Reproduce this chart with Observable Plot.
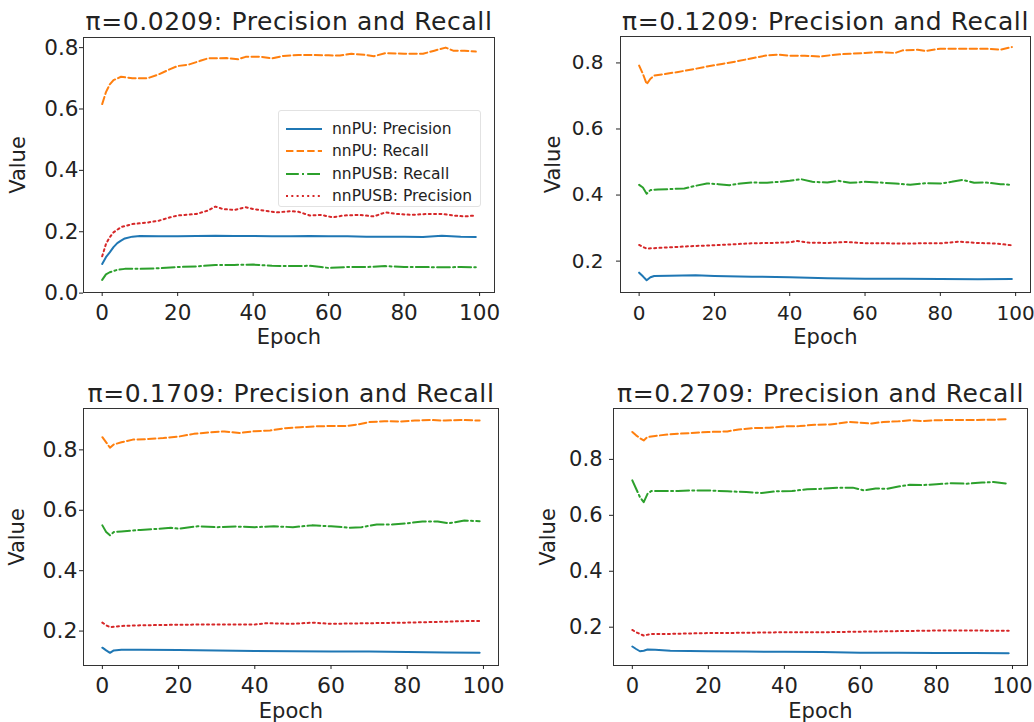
<!DOCTYPE html>
<html>
<head>
<meta charset="utf-8">
<script src="https://cdn.jsdelivr.net/npm/d3@7"></script>
<script src="https://cdn.jsdelivr.net/npm/@observablehq/plot@0.6"></script>
<style>
  body { margin: 0; background: #fff; }
  #root { position: relative; width: 1034px; height: 722px; overflow: hidden; font-family: "DejaVu Sans", sans-serif; }
  .panel { position: absolute; }
  .legend { position: absolute; background: rgba(255,255,255,0.8); border: 1px solid #e2e2e2; border-radius: 3px; box-sizing: border-box; }
  .legend .row { position: absolute; left: 0; height: 22px; display: flex; align-items: center; }
  .legend .row span { font-size: 15.5px; color: #222; margin-left: 10px; white-space: nowrap; }
</style>
</head>
<body>
<div id="root"></div>
<script>
// ---------- series meta ----------
const seriesNames  = ["nnPU: Precision", "nnPU: Recall", "nnPUSB: Recall", "nnPUSB: Precision"];
const seriesColors = ["#1f77b4", "#ff7f0e", "#2ca02c", "#d62728"];
const seriesDash   = [null, "7.4,3.2", "12.8,3.2,2,3.2", "2,3.3"];
const piLabels     = ["0.0209", "0.1209", "0.1709", "0.2709"];
const xTicks       = [0, 20, 40, 60, 80, 100];
const yTicksFirst  = [0.0, 0.2, 0.4, 0.6, 0.8];
const yTicksOther  = [0.2, 0.4, 0.6, 0.8];

// ---------- π = 0.0209 ----------  [epoch, value]
const p1_nnPU_precision = [[0,0.095],[1,0.117],[2,0.133],[3,0.150],[4,0.163],[5,0.171],[6,0.178],[8,0.184],[10,0.186],[15,0.185],[20,0.185],[25,0.186],[30,0.187],[35,0.186],[40,0.186],[45,0.185],[50,0.185],[55,0.186],[60,0.185],[65,0.185],[70,0.184],[75,0.184],[80,0.184],[85,0.183],[90,0.187],[95,0.184],[99,0.183]];
const p1_nnPU_recall = [[0,0.616],[1,0.655],[2,0.680],[3,0.694],[5,0.705],[8,0.700],[10,0.700],[12,0.700],[15,0.713],[18,0.730],[20,0.740],[23,0.745],[26,0.757],[28,0.765],[30,0.765],[33,0.766],[36,0.762],[38,0.770],[42,0.770],[45,0.765],[48,0.773],[52,0.776],[56,0.776],[60,0.775],[63,0.774],[66,0.780],[70,0.776],[72,0.772],[75,0.782],[80,0.780],[85,0.780],[88,0.790],[91,0.800],[93,0.790],[96,0.790],[99,0.787]];
const p1_nnPUSB_recall = [[0,0.043],[1,0.061],[2,0.068],[4,0.076],[6,0.079],[10,0.079],[15,0.081],[20,0.085],[25,0.087],[30,0.092],[35,0.092],[40,0.093],[45,0.089],[50,0.088],[55,0.089],[58,0.085],[60,0.082],[65,0.085],[70,0.085],[75,0.088],[80,0.085],[85,0.085],[90,0.084],[95,0.085],[99,0.084]];
const p1_nnPUSB_precision = [[0,0.120],[1,0.160],[2,0.182],[3,0.198],[5,0.215],[8,0.225],[12,0.230],[15,0.236],[18,0.247],[20,0.253],[25,0.258],[28,0.269],[30,0.282],[32,0.274],[35,0.271],[38,0.280],[40,0.274],[43,0.269],[46,0.263],[50,0.267],[52,0.265],[55,0.253],[58,0.255],[61,0.247],[64,0.253],[68,0.255],[72,0.250],[75,0.263],[78,0.258],[82,0.255],[86,0.258],[90,0.258],[93,0.253],[96,0.250],[99,0.253]];

// ---------- π = 0.1209 ----------
const p2_nnPU_precision = [[0,0.165],[1,0.154],[2,0.142],[3,0.151],[4,0.155],[8,0.156],[15,0.157],[20,0.155],[30,0.153],[40,0.151],[50,0.148],[60,0.147],[70,0.147],[80,0.146],[90,0.145],[99,0.146]];
const p2_nnPU_recall = [[0,0.792],[1,0.767],[2,0.736],[3,0.752],[4,0.762],[6,0.765],[10,0.772],[14,0.780],[18,0.789],[22,0.797],[26,0.805],[30,0.814],[34,0.823],[37,0.825],[40,0.822],[44,0.822],[48,0.819],[52,0.825],[56,0.828],[60,0.830],[64,0.833],[68,0.830],[70,0.838],[74,0.840],[76,0.836],[80,0.843],[84,0.843],[88,0.843],[92,0.843],[96,0.840],[99,0.848]];
const p2_nnPUSB_recall = [[0,0.431],[1,0.423],[2,0.404],[3,0.415],[5,0.417],[8,0.418],[12,0.420],[15,0.428],[18,0.435],[21,0.433],[24,0.430],[27,0.435],[30,0.438],[34,0.437],[37,0.440],[40,0.443],[43,0.448],[46,0.440],[50,0.438],[53,0.443],[56,0.437],[60,0.440],[64,0.438],[68,0.435],[72,0.431],[76,0.436],[80,0.435],[83,0.440],[86,0.446],[89,0.437],[92,0.438],[96,0.433],[99,0.431]];
const p2_nnPUSB_precision = [[0,0.249],[1,0.243],[2,0.238],[5,0.240],[10,0.243],[15,0.246],[20,0.248],[25,0.251],[30,0.254],[35,0.255],[40,0.257],[42,0.261],[45,0.256],[50,0.255],[55,0.258],[60,0.254],[65,0.254],[70,0.253],[75,0.254],[80,0.254],[85,0.259],[90,0.255],[95,0.253],[99,0.248]];

// ---------- π = 0.1709 ----------
const p3_nnPU_precision = [[0,0.145],[1,0.136],[2,0.128],[3,0.136],[5,0.138],[10,0.138],[20,0.137],[30,0.136],[40,0.134],[50,0.133],[60,0.132],[70,0.132],[80,0.131],[90,0.129],[99,0.128]];
const p3_nnPU_recall = [[0,0.842],[1,0.825],[2,0.807],[3,0.818],[5,0.825],[8,0.834],[12,0.836],[16,0.839],[20,0.844],[24,0.853],[28,0.858],[32,0.861],[36,0.856],[40,0.862],[44,0.864],[48,0.872],[52,0.875],[56,0.878],[60,0.879],[64,0.879],[67,0.884],[70,0.892],[74,0.895],[78,0.894],[82,0.897],[86,0.899],[90,0.897],[94,0.899],[99,0.897]];
const p3_nnPUSB_recall = [[0,0.550],[1,0.528],[2,0.517],[3,0.528],[5,0.530],[10,0.535],[15,0.539],[18,0.542],[20,0.539],[25,0.547],[30,0.544],[35,0.546],[40,0.544],[45,0.547],[50,0.544],[55,0.550],[60,0.547],[65,0.542],[68,0.544],[72,0.553],[76,0.553],[80,0.557],[84,0.563],[88,0.563],[91,0.557],[95,0.566],[99,0.564]];
const p3_nnPUSB_precision = [[0,0.228],[1,0.219],[2,0.213],[5,0.217],[10,0.219],[20,0.221],[30,0.222],[40,0.222],[43,0.226],[50,0.224],[55,0.228],[60,0.224],[70,0.226],[80,0.228],[90,0.231],[95,0.233],[99,0.233]];

// ---------- π = 0.2709 ----------
const p4_nnPU_precision = [[0,0.131],[1,0.122],[2,0.114],[3,0.116],[4,0.120],[6,0.119],[10,0.116],[20,0.114],[30,0.113],[40,0.112],[50,0.111],[60,0.109],[70,0.109],[80,0.108],[90,0.108],[99,0.107]];
const p4_nnPU_recall = [[0,0.898],[1,0.886],[2,0.876],[3,0.868],[4,0.880],[6,0.884],[10,0.890],[15,0.894],[20,0.898],[25,0.900],[28,0.907],[32,0.912],[36,0.913],[40,0.918],[44,0.919],[48,0.924],[52,0.925],[54,0.928],[57,0.934],[60,0.931],[63,0.928],[66,0.934],[70,0.936],[73,0.940],[76,0.937],[80,0.940],[85,0.941],[90,0.941],[95,0.942],[99,0.944]];
const p4_nnPUSB_recall = [[0,0.725],[1,0.695],[2,0.665],[3,0.647],[4,0.677],[5,0.687],[8,0.687],[12,0.687],[16,0.689],[20,0.689],[25,0.686],[30,0.683],[34,0.680],[38,0.686],[42,0.687],[46,0.693],[50,0.695],[54,0.699],[58,0.699],[61,0.689],[64,0.696],[67,0.695],[70,0.703],[73,0.709],[76,0.708],[80,0.711],[84,0.715],[88,0.713],[92,0.717],[95,0.719],[99,0.713]];
const p4_nnPUSB_precision = [[0,0.190],[1,0.182],[2,0.176],[3,0.170],[5,0.176],[10,0.176],[20,0.179],[30,0.180],[40,0.182],[50,0.182],[60,0.184],[70,0.186],[80,0.188],[90,0.188],[99,0.187]];

const panelSeries = [
  [p1_nnPU_precision, p1_nnPU_recall, p1_nnPUSB_recall, p1_nnPUSB_precision],
  [p2_nnPU_precision, p2_nnPU_recall, p2_nnPUSB_recall, p2_nnPUSB_precision],
  [p3_nnPU_precision, p3_nnPU_recall, p3_nnPUSB_recall, p3_nnPUSB_precision],
  [p4_nnPU_precision, p4_nnPU_recall, p4_nnPUSB_recall, p4_nnPUSB_precision]
];

// ---------- layout (pixels) ----------
const layout = [
  {left:0,   top:0,   w:517, h:361, ml:83,  mr:23, mt:37, mb:69, yDomain:[0.002,0.833], yTicks:yTicksFirst, yPad:1,  xPad:8, tickFont:21.5, titleDy:-15.5, valueDx:-65, epochDy:45},
  {left:517, top:0,   w:517, h:361, ml:103, mr:4,  mt:36, mb:69, yDomain:[0.105,0.880], yTicks:yTicksOther, yPad:13, xPad:9, tickFont:20,   titleDy:-15,   valueDx:-67, epochDy:45},
  {left:0,   top:361, w:517, h:361, ml:83,  mr:19, mt:47, mb:57, yDomain:[0.086,0.937], yTicks:yTicksOther, yPad:2,  xPad:8, tickFont:22,   titleDy:-15,   valueDx:-66, epochDy:46},
  {left:517, top:361, w:517, h:361, ml:96,  mr:7,  mt:47, mb:57, yDomain:[0.063,0.982], yTicks:yTicksOther, yPad:7,  xPad:9, tickFont:21,   titleDy:-14.5, valueDx:-65, epochDy:46}
];

const root = document.getElementById("root");
const fmt = d3.format(".1f");

panelSeries.forEach((series, i) => {
  const L = layout[i];
  const lines = series.map((data, s) => Plot.line(data, {
    x: d => d[0], y: d => d[1],
    stroke: seriesColors[s], strokeWidth: 2,
    strokeDasharray: seriesDash[s] || undefined,
    strokeLinejoin: "round"
  }));
  const chart = Plot.plot({
    width: L.w, height: L.h,
    marginLeft: L.ml, marginRight: L.mr, marginTop: L.mt, marginBottom: L.mb,
    style: {fontFamily: "DejaVu Sans", fontSize: "21px", color: "#222", background: "transparent", overflow: "visible"},
    x: {domain: [-4.95, 103.95]},
    y: {domain: L.yDomain},
    marks: [
      ...lines,
      Plot.frame({stroke: "#333", strokeWidth: 1}),
      Plot.axisX({ticks: xTicks, tickSize: 4, tickPadding: L.xPad, fontSize: L.tickFont, label: null, tickFormat: d3.format("d")}),
      Plot.axisY({ticks: L.yTicks, tickSize: 4, tickPadding: L.yPad, fontSize: L.tickFont, label: null, tickFormat: fmt}),
      Plot.text(["Epoch"], {frameAnchor: "bottom", lineAnchor: "middle", dy: L.epochDy, fontSize: 21, fill: "#222"}),
      Plot.text(["Value"], {frameAnchor: "left", lineAnchor: "middle", textAnchor: "middle", dx: L.valueDx, rotate: -90, fontSize: 21, fill: "#222"}),
      Plot.text([`π=${piLabels[i]}: Precision and Recall`], {frameAnchor: "top", lineAnchor: "middle", dy: L.titleDy, fontSize: 25, fill: "#222"})
    ]
  });
  d3.select(chart).selectAll("text").filter(function () { return this.textContent.startsWith("π="); })
    .style("letter-spacing", "0.6px");
  chart.classList.add("panel");
  chart.style.left = L.left + "px";
  chart.style.top = L.top + "px";
  root.appendChild(chart);
});

// ---------- legend (first panel) ----------
const legend = d3.select(root).append("div").attr("class", "legend")
  .style("left", "278px").style("top", "110px").style("width", "203px").style("height", "97px");
seriesNames.forEach((name, s) => {
  const row = legend.append("div").attr("class", "row").style("top", (7 + s * 22.3) + "px").style("left", "7px");
  const svg = row.append("svg").attr("width", 36).attr("height", 10);
  svg.append("line").attr("x1", 0).attr("x2", 36).attr("y1", 5).attr("y2", 5)
    .attr("stroke", seriesColors[s]).attr("stroke-width", 2)
    .attr("stroke-dasharray", seriesDash[s]);
  row.append("span").text(name);
});
</script>
</body>
</html>
